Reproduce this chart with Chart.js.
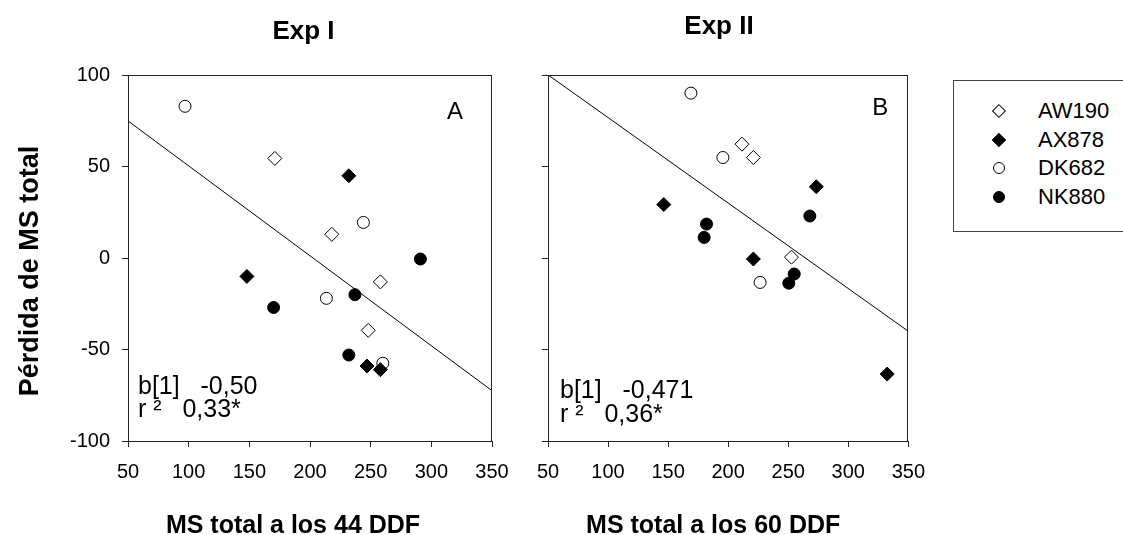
<!DOCTYPE html>
<html lang="es">
<head>
<meta charset="utf-8">
<title>Pérdida de MS total</title>
<script src="https://cdn.jsdelivr.net/npm/chart.js@4.4.1/dist/chart.umd.min.js"></script>
<style>
  html, body { margin: 0; padding: 0; background: #fff; width: 1123px; height: 535px; overflow: hidden; }
  canvas { position: absolute; top: 0; }
  #graficoA { left: 0; }
  #graficoB { left: 500px; }
  #leyenda {
    position: absolute; left: 953px; top: 80px; width: 190px; height: 152px;
    border: 1.5px solid #444; box-sizing: border-box;
    font-family: "Liberation Sans", Arial, sans-serif; font-size: 22px; color: #000;
  }
  .item { position: absolute; left: 0; height: 28px; line-height: 28px; }
  .marca { position: absolute; box-sizing: border-box; border: 1px solid #000; }
  .nombre { position: absolute; left: 84px; white-space: nowrap; }
</style>
</head>
<body>
<canvas id="graficoA" width="607" height="550"></canvas>
<canvas id="graficoB" width="438" height="550"></canvas>
<div id="leyenda"></div>

<script>
// Datos: MS total (x) vs pérdida de MS total (y)
const grupos = ["AW190", "AX878", "DK682", "NK880"];
const ticksX = [50, 100, 150, 200, 250, 300, 350];
const ticksY = [-100, -50, 0, 50, 100];

// Exp I - MS total a los 44 DDF
const expI_AW190 = [[171, 54.5], [218, 13], [258, -13], [248, -39.5]];
const expI_AX878 = [[232, 45], [148, -10], [247, -59], [258, -61]];
const expI_DK682 = [[97, 83], [244, 19.5], [213.5, -22], [260, -57.5]];
const expI_NK880 = [[291, -0.5], [237, -20], [170, -27], [232, -53]];
const expI_recta = [[50, 75], [350, -72.5]];
const expI_stats = ["b[1]   -0,50", "r ²   0,33*"];

// Exp II - MS total a los 60 DDF
const expII_AW190 = [[211.5, 62.3], [221, 55], [252.7, 0.5]];
const expII_AX878 = [[146.4, 29.3], [273.4, 39], [221, -0.5], [332.4, -63.4]];
const expII_DK682 = [[169, 90.2], [195.6, 55], [226.6, -13.3]];
const expII_NK880 = [[182, 18.6], [180, 11.3], [268, 23], [255, -8.7], [250.5, -13.7]];
const expII_recta = [[50, 100.2], [350, -40]];
const expII_stats = ["b[1]   -0,471", "r ²   0,36*"];

const fuente = "'Liberation Sans', Arial, sans-serif";

// estilo de cada híbrido (mismo orden que grupos)
const estilos = [
  { forma: "rectRot", relleno: "#fff", radio: 7 },
  { forma: "rectRot", relleno: "#000", radio: 7 },
  { forma: "circle", relleno: "#fff", radio: 6 },
  { forma: "circle", relleno: "#000", radio: 6 }
];

// marco del panel, letra, estadísticos y títulos de ejes
const pluginTextos = {
  id: "textos",
  afterDraw(chart, args, o) {
    const { ctx, chartArea: a } = chart;
    ctx.save();
    ctx.strokeStyle = "#222";
    ctx.lineWidth = 1;
    ctx.strokeRect(Math.round(a.left) + 0.5, Math.round(a.top) + 0.5,
      Math.round(a.width) - 1, Math.round(a.height));

    ctx.fillStyle = "#000";
    ctx.textBaseline = "alphabetic";
    ctx.textAlign = "center";
    ctx.font = `24px ${fuente}`;
    ctx.fillText(o.letra, a.right + o.letraDx, a.top + o.letraDy);

    ctx.textAlign = "left";
    ctx.font = `25px ${fuente}`;
    o.stats.forEach((t, i) => ctx.fillText(t, a.left + o.statsDx, a.bottom + o.statsDy[i]));

    ctx.textAlign = "center";
    ctx.font = `bold 25px ${fuente}`;
    ctx.fillText(o.tituloX, (a.left + a.right) / 2 + o.tituloXDx, 533);

    if (o.tituloY) {
      ctx.font = `bold 27px ${fuente}`;
      ctx.translate(38, 271);
      ctx.rotate(-Math.PI / 2);
      ctx.fillText(o.tituloY, 0, 0);
    }
    ctx.restore();
  }
};

function crearPanel(id, titulo, series, recta, opciones) {
  const datasets = series.map((serie, i) => ({
    label: grupos[i],
    data: serie.map(([x, y]) => ({ x, y })),
    pointStyle: estilos[i].forma,
    pointRadius: estilos[i].radio,
    pointHoverRadius: estilos[i].radio,
    backgroundColor: estilos[i].relleno,
    borderColor: "#000",
    borderWidth: 1
  }));
  // recta de regresión (dibujada debajo de los puntos)
  datasets.push({
    label: "regresión",
    data: recta.map(([x, y]) => ({ x, y })),
    showLine: true,
    borderColor: "#000",
    borderWidth: 1,
    pointRadius: 0
  });

  return new Chart(document.getElementById(id), {
    type: "scatter",
    data: { datasets },
    plugins: [pluginTextos],
    options: {
      responsive: false,
      animation: false,
      devicePixelRatio: 1,
      layout: { padding: 0 },
      plugins: {
        legend: { display: false },
        tooltip: { enabled: false },
        title: {
          display: true,
          text: titulo,
          color: "#000",
          font: { family: fuente, size: 26, weight: "bold" },
          padding: opciones.padTitulo
        },
        textos: opciones.textos
      },
      scales: {
        x: {
          type: "linear",
          min: 50,
          max: 350,
          afterBuildTicks: s => { s.ticks = ticksX.map(v => ({ value: v })); },
          afterFit: s => { s.height = 109; },
          grid: { drawOnChartArea: false, tickLength: 6, color: "#222" },
          border: { color: "#222", width: 1 },
          ticks: { color: "#000", font: { family: fuente, size: 20 }, padding: 13, maxRotation: 0 }
        },
        y: {
          type: "linear",
          min: -100,
          max: 100,
          afterBuildTicks: s => { s.ticks = ticksY.map(v => ({ value: v })); },
          afterFit: s => { s.width = opciones.anchoY; },
          grid: { drawOnChartArea: false, tickLength: 6, color: "#222" },
          border: { color: "#222", width: 1 },
          ticks: {
            display: opciones.etiquetasY,
            color: "#000",
            font: { family: fuente, size: 20 },
            padding: 12
          }
        },
        // eje derecho vacío: sólo reserva espacio para centrar el título
        yDer: {
          type: "linear",
          position: "right",
          min: -100,
          max: 100,
          grid: { display: false },
          border: { display: false },
          ticks: { display: false },
          afterFit: s => { s.width = opciones.anchoDerecha; }
        }
      }
    }
  });
}

crearPanel("graficoA", "Exp I",
  [expI_AW190, expI_AX878, expI_DK682, expI_NK880], expI_recta, {
    anchoY: 128,
    anchoDerecha: 115,
    etiquetasY: true,
    padTitulo: { top: 16, bottom: 28 },
    textos: {
      letra: "A", letraDx: -37, letraDy: 44,
      stats: expI_stats, statsDx: 10, statsDy: [-47, -24],
      tituloX: "MS total a los 44 DDF", tituloXDx: -17,
      tituloY: "Pérdida de MS total"
    }
  });

crearPanel("graficoB", "Exp II",
  [expII_AW190, expII_AX878, expII_DK682, expII_NK880], expII_recta, {
    anchoY: 48,
    anchoDerecha: 26,
    etiquetasY: false,
    padTitulo: { top: 11, bottom: 33 },
    textos: {
      letra: "B", letraDx: -28, letraDy: 40,
      stats: expII_stats, statsDx: 12, statsDy: [-43, -19],
      tituloX: "MS total a los 60 DDF", tituloXDx: -15,
      tituloY: null
    }
  });

// Leyenda en HTML a partir de los mismos grupos
const leyenda = document.getElementById("leyenda");
grupos.forEach((g, i) => {
  const est = estilos[i];
  const item = document.createElement("div");
  item.className = "item";
  item.style.top = (16 + i * 28.7) + "px";
  const marca = document.createElement("span");
  marca.className = "marca";
  const lado = est.forma === "rectRot" ? est.radio * Math.SQRT2 : est.radio * 2;
  marca.style.width = lado + "px";
  marca.style.height = lado + "px";
  marca.style.left = (45 - lado / 2) + "px";
  marca.style.top = (14 - lado / 2) + "px";
  marca.style.background = est.relleno;
  if (est.forma === "rectRot") marca.style.transform = "rotate(45deg)";
  else marca.style.borderRadius = "50%";
  const nombre = document.createElement("span");
  nombre.className = "nombre";
  nombre.textContent = g;
  item.appendChild(marca);
  item.appendChild(nombre);
  leyenda.appendChild(item);
});
</script>
</body>
</html>
